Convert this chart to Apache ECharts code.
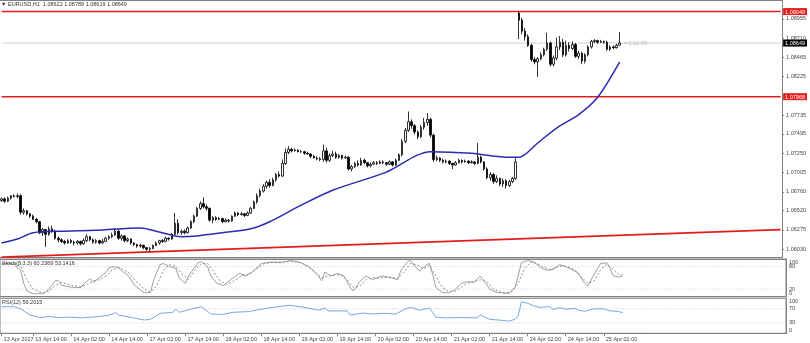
<!DOCTYPE html>
<html><head><meta charset="utf-8">
<script src="https://cdn.jsdelivr.net/npm/echarts@6/dist/echarts.min.js"></script>
<style>html,body{margin:0;padding:0;background:#fff}#c{width:810px;height:343px}</style>
</head><body><div id="c"></div><script>
// ---- data ----
const tradingDays = ['13 Apr','14 Apr','17 Apr','18 Apr','19 Apr','20 Apr','21 Apr','24 Apr','25 Apr'];
const firstHour = 4;
const barCount = 197;
const slotCount = 248;
const firstLabel = '13 Apr 2017';
const xTickLabels = ['13 Apr 14:00','14 Apr 02:00','14 Apr 14:00','17 Apr 02:00','17 Apr 14:00','18 Apr 02:00','18 Apr 14:00','19 Apr 02:00','19 Apr 14:00','20 Apr 02:00','20 Apr 14:00','21 Apr 02:00','21 Apr 14:00','24 Apr 02:00','24 Apr 14:00','25 Apr 02:00'];
const priceTicks = [1.08955,1.08710,1.08465,1.08225,1.07735,1.07495,1.07250,1.07005,1.06760,1.06520,1.06275,1.06030];
const stochEndTicks = [0,100];
const stochLevels = [80,20];
const rsiTicks = [0,30,70,100];
const rsiLevels = [70,30];
const resistanceLevel = 1.09049;
const supportLevel = 1.07968;
const bidPrice = 1.08649;
const priceBoxes = [resistanceLevel, supportLevel, bidPrice];
const timerText = '= 0:10:45';
const headerText = '\u25BC EURUSD,H1  1.08622 1.08789 1.08619 1.08649';
const stochText = 'Stoch(8,3,3) 60.2369 53.1416';
const rsiText = 'RSI(12) 59.2015';
// [open, close, low, high]
const candles = [
[1.0665,1.0667,1.0663,1.0669],[1.0667,1.0664,1.0662,1.0669],[1.0664,1.0668,1.0663,1.0670],[1.0668,1.0671,1.0666,1.0672],
[1.0671,1.0670,1.0669,1.0673],[1.0670,1.0671,1.0668,1.0674],[1.0671,1.0650,1.0647,1.0673],[1.0650,1.0652,1.0647,1.0655],
[1.0652,1.0648,1.0646,1.0653],[1.0648,1.0645,1.0643,1.0649],[1.0645,1.0641,1.0640,1.0647],[1.0641,1.0638,1.0636,1.0643],
[1.0638,1.0624,1.0622,1.0639],[1.0624,1.0628,1.0620,1.0630],[1.0628,1.0622,1.0606,1.0629],[1.0622,1.0629,1.0620,1.0632],
[1.0629,1.0626,1.0624,1.0633],[1.0626,1.0617,1.0615,1.0628],[1.0617,1.0615,1.0612,1.0619],[1.0615,1.0613,1.0611,1.0617],
[1.0613,1.0611,1.0609,1.0615],[1.0611,1.0614,1.0610,1.0616],[1.0614,1.0612,1.0610,1.0616],[1.0612,1.0611,1.0608,1.0614],
[1.0611,1.0613,1.0609,1.0615],[1.0613,1.0610,1.0608,1.0614],[1.0610,1.0614,1.0609,1.0617],[1.0614,1.0619,1.0612,1.0622],
[1.0619,1.0615,1.0613,1.0620],[1.0615,1.0612,1.0610,1.0617],[1.0612,1.0614,1.0610,1.0616],[1.0614,1.0611,1.0609,1.0615],
[1.0611,1.0613,1.0610,1.0616],[1.0613,1.0617,1.0612,1.0619],[1.0617,1.0619,1.0615,1.0621],[1.0619,1.0621,1.0617,1.0624],
[1.0621,1.0626,1.0620,1.0630],[1.0626,1.0617,1.0615,1.0628],[1.0617,1.0620,1.0614,1.0622],[1.0620,1.0614,1.0612,1.0621],
[1.0614,1.0616,1.0612,1.0618],[1.0616,1.0611,1.0609,1.0617],[1.0611,1.0609,1.0607,1.0612],[1.0609,1.0607,1.0605,1.0610],
[1.0607,1.0608,1.0605,1.0610],[1.0608,1.0605,1.0603,1.0609],[1.0605,1.0603,1.0601,1.0606],[1.0603,1.0604,1.0600,1.0606],
[1.0604,1.0608,1.0603,1.0609],[1.0608,1.0611,1.0607,1.0613],[1.0611,1.0614,1.0609,1.0615],[1.0614,1.0613,1.0611,1.0616],
[1.0613,1.0617,1.0612,1.0619],[1.0617,1.0616,1.0614,1.0618],[1.0616,1.0622,1.0615,1.0624],[1.0622,1.0636,1.0620,1.0649],
[1.0636,1.0624,1.0622,1.0641],[1.0624,1.0626,1.0621,1.0628],[1.0626,1.0624,1.0622,1.0628],[1.0624,1.0630,1.0623,1.0632],
[1.0630,1.0638,1.0629,1.0640],[1.0638,1.0645,1.0636,1.0647],[1.0645,1.0655,1.0644,1.0657],[1.0655,1.0661,1.0653,1.0664],
[1.0661,1.0657,1.0655,1.0669],[1.0657,1.0655,1.0652,1.0660],[1.0655,1.0640,1.0638,1.0656],[1.0640,1.0643,1.0636,1.0645],
[1.0643,1.0641,1.0639,1.0645],[1.0641,1.0642,1.0640,1.0644],[1.0642,1.0638,1.0636,1.0643],[1.0638,1.0640,1.0637,1.0642],
[1.0640,1.0639,1.0637,1.0641],[1.0639,1.0645,1.0638,1.0646],[1.0645,1.0649,1.0644,1.0651],[1.0649,1.0647,1.0645,1.0650],
[1.0647,1.0648,1.0646,1.0650],[1.0648,1.0646,1.0644,1.0649],[1.0646,1.0649,1.0645,1.0651],[1.0649,1.0655,1.0648,1.0657],
[1.0655,1.0663,1.0654,1.0665],[1.0663,1.0671,1.0661,1.0674],[1.0671,1.0677,1.0669,1.0680],[1.0677,1.0683,1.0675,1.0686],
[1.0683,1.0688,1.0680,1.0690],[1.0688,1.0684,1.0681,1.0692],[1.0684,1.0691,1.0683,1.0694],[1.0691,1.0698,1.0689,1.0700],
[1.0698,1.0696,1.0694,1.0702],[1.0696,1.0712,1.0695,1.0717],[1.0712,1.0726,1.0710,1.0731],[1.0726,1.0730,1.0724,1.0734],
[1.0730,1.0728,1.0726,1.0732],[1.0728,1.0729,1.0727,1.0731],[1.0729,1.0727,1.0726,1.0730],[1.0727,1.0727,1.0725,1.0729],
[1.0727,1.0725,1.0723,1.0728],[1.0725,1.0724,1.0723,1.0727],[1.0724,1.0721,1.0719,1.0725],[1.0721,1.0719,1.0718,1.0723],
[1.0719,1.0718,1.0716,1.0721],[1.0718,1.0717,1.0715,1.0720],[1.0717,1.0728,1.0714,1.0736],[1.0728,1.0716,1.0713,1.0732],
[1.0716,1.0722,1.0714,1.0725],[1.0722,1.0724,1.0720,1.0728],[1.0724,1.0720,1.0718,1.0727],[1.0720,1.0722,1.0718,1.0724],
[1.0722,1.0719,1.0717,1.0723],[1.0719,1.0720,1.0718,1.0722],[1.0720,1.0705,1.0703,1.0721],[1.0705,1.0708,1.0702,1.0710],
[1.0708,1.0712,1.0706,1.0714],[1.0712,1.0710,1.0708,1.0716],[1.0710,1.0716,1.0709,1.0719],[1.0716,1.0713,1.0711,1.0718],
[1.0713,1.0709,1.0707,1.0714],[1.0709,1.0711,1.0707,1.0713],[1.0711,1.0713,1.0710,1.0715],[1.0713,1.0712,1.0710,1.0715],
[1.0712,1.0714,1.0711,1.0716],[1.0714,1.0713,1.0711,1.0716],[1.0713,1.0711,1.0709,1.0714],[1.0711,1.0714,1.0710,1.0716],
[1.0714,1.0710,1.0708,1.0715],[1.0710,1.0716,1.0709,1.0718],[1.0716,1.0723,1.0715,1.0725],[1.0723,1.0740,1.0721,1.0743],
[1.0740,1.0754,1.0738,1.0757],[1.0754,1.0765,1.0752,1.0778],[1.0765,1.0760,1.0756,1.0768],[1.0760,1.0752,1.0749,1.0762],
[1.0752,1.0746,1.0743,1.0754],[1.0746,1.0758,1.0744,1.0761],[1.0758,1.0764,1.0755,1.0770],[1.0764,1.0768,1.0760,1.0776],
[1.0768,1.0748,1.0745,1.0770],[1.0748,1.0717,1.0714,1.0750],[1.0717,1.0719,1.0715,1.0722],[1.0719,1.0716,1.0714,1.0720],
[1.0716,1.0714,1.0712,1.0718],[1.0714,1.0715,1.0712,1.0717],[1.0715,1.0712,1.0710,1.0716],[1.0712,1.0710,1.0705,1.0713],
[1.0710,1.0713,1.0709,1.0715],[1.0713,1.0716,1.0712,1.0718],[1.0716,1.0714,1.0712,1.0717],[1.0714,1.0715,1.0713,1.0717],
[1.0715,1.0713,1.0711,1.0716],[1.0713,1.0714,1.0712,1.0716],[1.0714,1.0712,1.0710,1.0715],[1.0712,1.0720,1.0711,1.0738],
[1.0720,1.0714,1.0712,1.0722],[1.0714,1.0705,1.0703,1.0715],[1.0705,1.0694,1.0692,1.0707],[1.0694,1.0698,1.0690,1.0701],
[1.0698,1.0689,1.0686,1.0700],[1.0689,1.0693,1.0687,1.0697],[1.0693,1.0686,1.0683,1.0694],[1.0686,1.0690,1.0682,1.0693],
[1.0690,1.0684,1.0680,1.0692],[1.0684,1.0689,1.0682,1.0691],[1.0689,1.0693,1.0687,1.0695],[1.0693,1.0714,1.0691,1.0720],
[1.0903,1.0894,1.0870,1.0905],[1.0894,1.0880,1.0876,1.0897],[1.0880,1.0873,1.0868,1.0884],[1.0873,1.0862,1.0860,1.0876],
[1.0862,1.0844,1.0841,1.0864],[1.0844,1.0841,1.0838,1.0847],[1.0841,1.0845,1.0822,1.0847],[1.0845,1.0850,1.0843,1.0853],
[1.0850,1.0857,1.0848,1.0859],[1.0857,1.0865,1.0855,1.0878],[1.0865,1.0838,1.0835,1.0867],[1.0838,1.0846,1.0835,1.0849],
[1.0846,1.0860,1.0843,1.0872],[1.0860,1.0866,1.0856,1.0874],[1.0866,1.0850,1.0847,1.0870],[1.0850,1.0862,1.0848,1.0868],
[1.0862,1.0858,1.0854,1.0866],[1.0858,1.0863,1.0856,1.0867],[1.0863,1.0848,1.0846,1.0865],[1.0848,1.0852,1.0845,1.0855],
[1.0852,1.0842,1.0838,1.0854],[1.0842,1.0850,1.0839,1.0852],[1.0850,1.0860,1.0848,1.0862],[1.0860,1.0867,1.0858,1.0869],
[1.0867,1.0868,1.0865,1.0870],[1.0868,1.0866,1.0864,1.0869],[1.0866,1.0867,1.0865,1.0869],[1.0867,1.0866,1.0864,1.0868],
[1.0866,1.0857,1.0855,1.0868],[1.0857,1.0860,1.0855,1.0862],[1.0860,1.0859,1.0857,1.0862],[1.0859,1.0862,1.0858,1.0864],
[1.08622,1.08649,1.08619,1.08789]
];
// moving average read at sample bars [barIndex, value]
const maLine = [[0,1.0611],[5,1.0616],[10,1.0624],[20,1.0626],[30,1.0627],[44,1.0630],[50,1.0625],[57,1.0619],[62,1.0620],[70,1.0624],[79,1.0629],[85,1.0638],[95,1.0659],[105,1.0678],[122,1.0701],[136,1.0727],[149,1.0725],[160,1.0720],[164,1.0720],[170,1.0738],[176,1.0757],[183,1.0774],[189,1.0796],[196,1.0841]];
const trendLine = [[0,1.0593],[247,1.0628]];
const stochMain = [[0,88],[2,90],[4,85],[6,70],[7,35],[8,15],[10,8],[13,8],[15,20],[17,43],[18,42],[19,30],[22,25],[25,24],[26,35],[28,48],[29,38],[30,45],[33,65],[34,78],[36,80],[37,75],[40,55],[42,30],[45,10],[47,12],[48,45],[50,85],[51,88],[53,80],[55,75],[56,50],[58,35],[59,55],[62,90],[63,93],[65,80],[66,55],[68,35],[70,30],[73,50],[75,62],[77,55],[79,65],[82,88],[85,92],[88,90],[91,96],[94,92],[97,80],[100,55],[101,42],[102,65],[104,55],[106,62],[108,55],[110,25],[111,15],[113,40],[115,55],[117,45],[120,55],[123,50],[125,45],[126,70],[128,92],[129,96],[131,75],[132,68],[134,85],[135,88],[136,60],[137,25],[139,12],[141,10],[143,18],[145,35],[147,40],[149,38],[151,55],[152,45],[154,20],[156,12],[158,10],[160,8],[162,25],[163,55],[164,90],[166,96],[168,92],[170,78],[172,70],[174,72],[176,85],[178,80],[180,72],[182,62],[184,35],[185,28],[187,60],[189,88],[191,90],[192,75],[193,55],[195,52],[196,60.24]];
const stochSignal = [[0,86],[2,88],[4,87],[6,80],[8,45],[10,20],[13,10],[15,14],[17,30],[19,38],[22,30],[25,26],[27,32],[29,42],[31,45],[33,55],[35,72],[37,78],[40,65],[42,45],[45,20],[47,12],[49,30],[51,70],[53,85],[55,80],[57,60],[59,45],[61,70],[63,88],[65,88],[67,65],[69,42],[71,32],[74,45],[76,58],[78,58],[80,72],[83,88],[86,92],[89,92],[92,94],[95,88],[98,72],[101,50],[103,55],[105,58],[107,58],[109,45],[111,25],[113,28],[115,45],[117,50],[120,50],[123,52],[125,48],[127,65],[129,88],[131,85],[133,74],[135,82],[137,55],[139,25],[141,14],[143,14],[145,25],[147,36],[149,40],[151,45],[153,40],[155,22],[157,13],[159,10],[161,14],[163,35],[165,75],[167,92],[169,88],[171,78],[173,72],[175,78],[177,82],[179,78],[181,70],[183,52],[185,35],[187,42],[189,72],[191,86],[193,72],[195,56],[196,53.14]];
const rsiLine = [[0,76],[4,76],[6,70],[8,58],[9,52],[12,45],[15,48],[18,45],[22,46],[25,44],[31,48],[34,52],[36,59],[37,52],[41,45],[45,38],[47,40],[50,57],[54,60],[55,69],[56,60],[61,72],[63,76],[64,70],[66,55],[70,54],[73,60],[78,62],[84,72],[89,78],[91,80],[95,75],[100,66],[102,72],[103,64],[109,64],[110,52],[114,58],[117,55],[121,57],[124,55],[125,58],[127,68],[129,74],[132,66],[135,72],[136,60],[137,46],[140,44],[145,45],[150,44],[151,52],[153,44],[154,40],[158,37],[160,35],[162,40],[163,50],[164,90],[166,86],[168,78],[170,74],[173,76],[174,68],[176,73],[178,69],[181,71],[182,66],[184,63],[187,70],[190,70],[192,64],[194,63],[196,59.2]];

// ---- categories ----
const categories = [];
for (let i = 0; i < slotCount; i++) {
  if (i < barCount) {
    const t = firstHour + i;
    const h = t % 24;
    categories.push(tradingDays[Math.floor(t / 24)] + ' ' + String(h).padStart(2, '0') + ':00');
  } else categories.push('slot' + i);
}
const showTick = (idx, val) => idx === 0 || xTickLabels.indexOf(val) >= 0;
const lastSlot = slotCount - 1;

const FONT = 'Liberation Sans';
const FS = 5.5;
const TXT = '#444';
const AX = '#808080';
const RED = '#e41c1c';
const PMIN = 1.05928, PMAX = 1.09196;

const chart = echarts.init(document.getElementById('c'));
const hiddenX = (gi) => ({type:'category', gridIndex:gi, data:categories, boundaryGap:true,
  axisLine:{show:true, onZero:false, lineStyle:{color:AX}}, axisTick:{show:false}, axisLabel:{show:false}, splitLine:{show:false}});
const titleStyle = {fontSize:FS, fontWeight:'normal', color:'#333', fontFamily:FONT};
const boxStyle = (bg) => ({backgroundColor:bg, color:'#fff', fontSize:FS, padding:[1,2,0,2], fontFamily:FONT});
// horizontal line from first to last slot at a value, drawn through the axes
const hLine = (axisIdx, value, style, z) => ({type:'line', xAxisIndex:axisIdx, yAxisIndex:axisIdx,
  data:[[0, value], [lastSlot, value]], showSymbol:false, silent:true, lineStyle:style, z:z});
const sideAxis = (gi, values, extra) => Object.assign({type:'value', gridIndex:gi, position:'right', min:0, max:100,
  axisLine:{show:true, onZero:false, lineStyle:{color:AX}}, axisTick:{show:false}, splitLine:{show:false},
  axisLabel:Object.assign({customValues:values, hideOverlap:false, showMinLabel:true, showMaxLabel:true,
    fontSize:FS, color:TXT, margin:3, fontFamily:FONT}, extra || {})});

chart.setOption({
  animation:false,
  backgroundColor:'#fff',
  textStyle:{fontFamily:FONT},
  title:[
    {text:headerText, left:1, top:1, padding:0, textStyle:titleStyle},
    {text:stochText, left:2, top:260, padding:0, textStyle:titleStyle},
    {text:rsiText, left:2, top:299.5, padding:0, textStyle:titleStyle}
  ],
  grid:[
    {left:0, top:0, width:786, height:257.3},
    {left:0, top:259, width:786, height:37.7, show:true, borderColor:AX, borderWidth:1},
    {left:0, top:298.3, width:786, height:35, show:true, borderColor:AX, borderWidth:1}
  ],
  xAxis:[
    hiddenX(0), hiddenX(1),
    {type:'category', gridIndex:2, data:categories, boundaryGap:true,
     axisLine:{show:true, onZero:false, lineStyle:{color:AX}},
     axisTick:{show:true, interval:showTick, alignWithLabel:true, length:3, lineStyle:{color:AX}},
     axisLabel:{show:true, interval:showTick, hideOverlap:false, formatter:(v, i) => i === 0 ? firstLabel : v,
       align:'left', fontSize:FS, color:TXT, margin:3, padding:[0,0,0,2], fontFamily:FONT},
     splitLine:{show:false}},
    hiddenX(0), hiddenX(1)
  ],
  yAxis:[
    {type:'value', gridIndex:0, position:'right', min:PMIN, max:PMAX,
     axisLine:{show:true, onZero:false, lineStyle:{color:AX}},
     axisTick:{show:true, customValues:priceTicks, length:2, lineStyle:{color:AX}},
     axisLabel:{customValues:priceTicks, hideOverlap:false, showMinLabel:true, showMaxLabel:true, formatter:v => v.toFixed(5), fontSize:FS, color:TXT, margin:4, fontFamily:FONT},
     splitLine:{show:false}},
    sideAxis(1, stochEndTicks, {verticalAlignMinLabel:'bottom', verticalAlignMaxLabel:'top'}),
    sideAxis(2, rsiTicks, {verticalAlignMinLabel:'bottom', verticalAlignMaxLabel:'top'}),
    {type:'value', gridIndex:0, position:'right', min:PMIN, max:PMAX,
     axisLine:{show:false}, axisTick:{show:false}, splitLine:{show:false},
     axisLabel:{customValues:priceBoxes, hideOverlap:false, showMinLabel:true, showMaxLabel:true, margin:1,
       formatter:v => (Math.abs(v - bidPrice) < 1e-9 ? '{b|' : '{r|') + v.toFixed(5) + '}',
       rich:{r:boxStyle(RED), b:boxStyle('#000')}}},
    sideAxis(1, stochLevels)
  ],
  series:[
    {type:'line', xAxisIndex:0, yAxisIndex:0, data:trendLine, showSymbol:false, silent:true,
     lineStyle:{color:RED, width:1.6}, z:1},
    hLine(0, resistanceLevel, {color:RED, width:1.6}, 1),
    hLine(0, supportLevel, {color:RED, width:1.6}, 1),
    hLine(0, bidPrice, {color:'#d0d0d0', width:1}, 1),
    {type:'candlestick', xAxisIndex:0, yAxisIndex:0, data:candles, barWidth:2,
     itemStyle:{color:'#fff', color0:'#000', borderColor:'#000', borderColor0:'#000', borderWidth:0.8},
     markPoint:{silent:true, symbol:'circle', symbolSize:0,
       data:[{coord:[barCount, bidPrice], value:timerText}],
       label:{show:true, position:'right', distance:1, formatter:timerText, color:'#b8b8b8', fontSize:FS, fontFamily:FONT}},
     z:3},
    {type:'line', xAxisIndex:0, yAxisIndex:0, data:maLine, showSymbol:false, smooth:0.3, silent:true,
     lineStyle:{color:'#2a2ab0', width:1.5}, z:4},
    ...stochLevels.map(v => hLine(1, v, {color:'#c8c8c8', width:1, type:[1,2]}, 1)),
    {type:'line', xAxisIndex:1, yAxisIndex:1, data:stochMain, showSymbol:false, silent:true,
     lineStyle:{color:'#a0a0a0', width:1}, z:2},
    {type:'line', xAxisIndex:1, yAxisIndex:1, data:stochSignal, showSymbol:false, silent:true,
     lineStyle:{color:'#8c8c8c', width:1, type:[2,2]}, z:2},
    ...rsiLevels.map(v => hLine(2, v, {color:'#c8c8c8', width:1, type:[1,2]}, 1)),
    {type:'line', xAxisIndex:2, yAxisIndex:2, data:rsiLine, showSymbol:false, silent:true,
     lineStyle:{color:'#74a9e0', width:1}, z:2}
  ]
});
</script></body></html>
